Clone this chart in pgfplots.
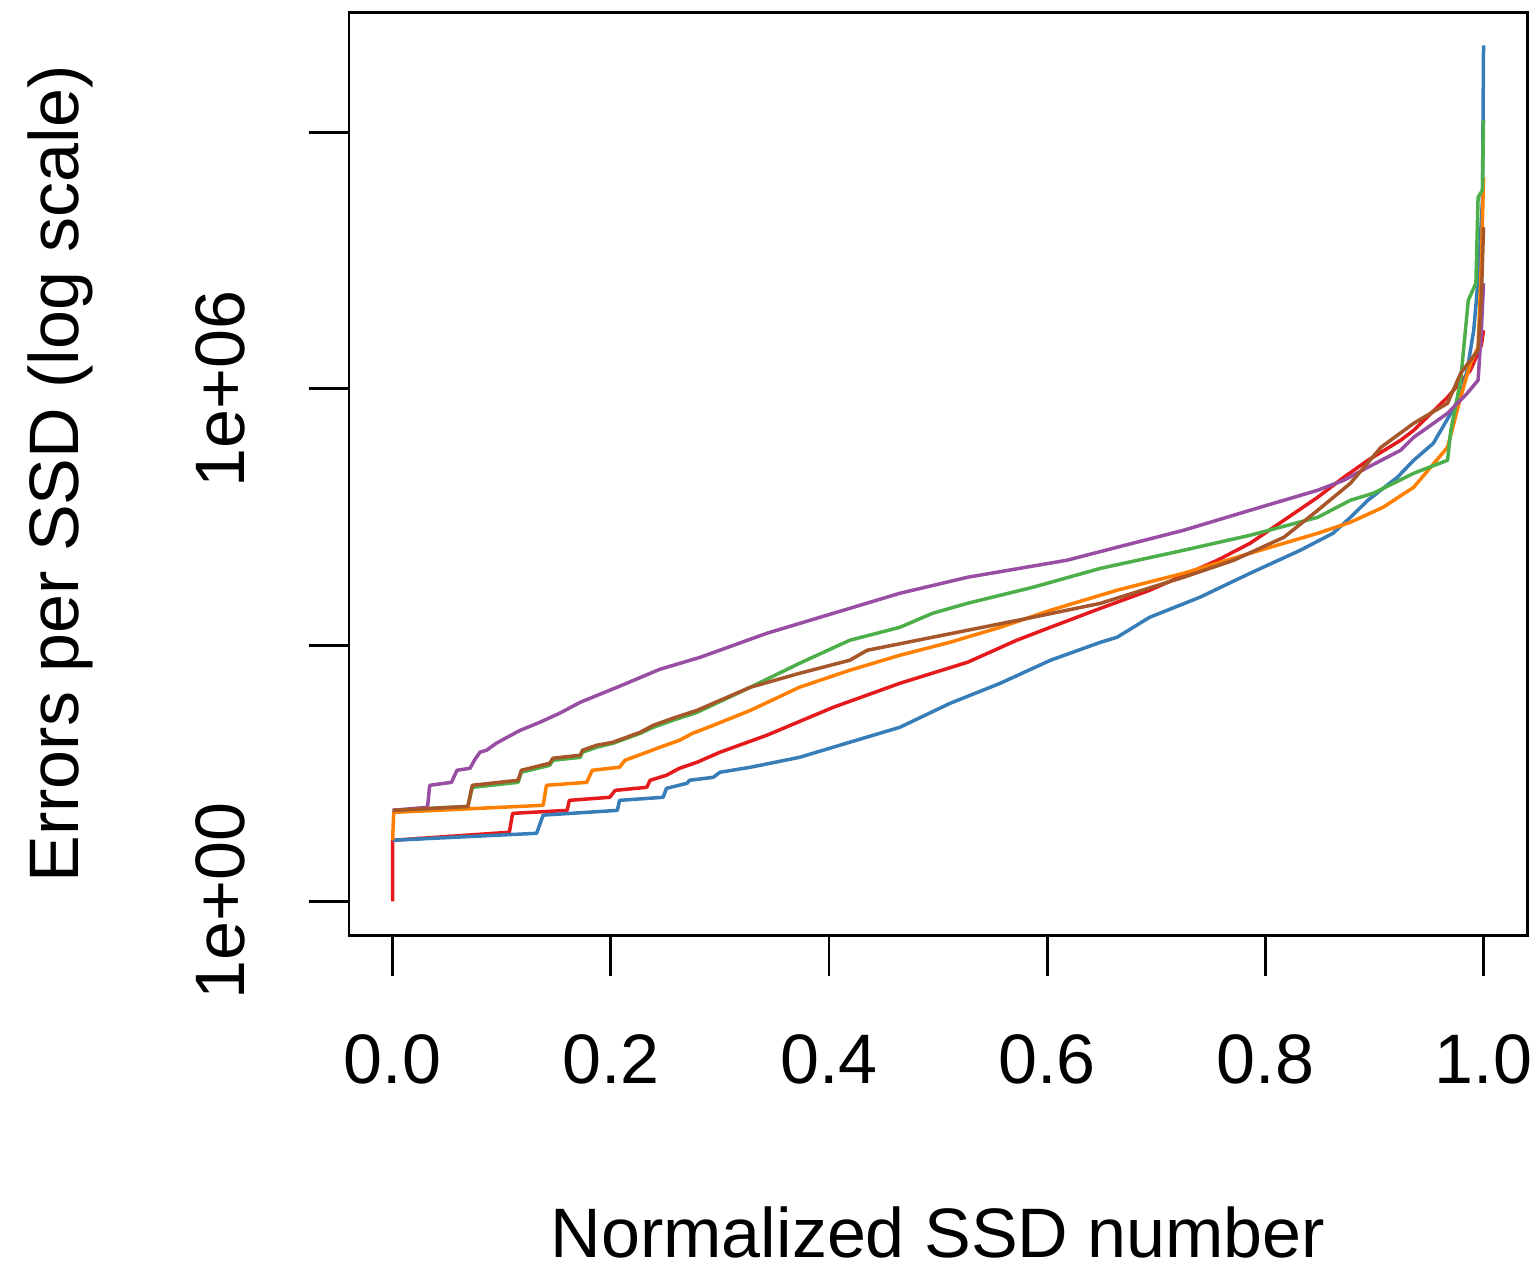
\documentclass[border=0pt]{standalone}
\usepackage{fontspec}
\setmainfont{Liberation Sans}
\usepackage{pgfplots}
\pgfplotsset{compat=1.18}
\definecolor{cred}{HTML}{E41A1C}
\definecolor{cblue}{HTML}{377EB8}
\definecolor{cgreen}{HTML}{4DAF4A}
\definecolor{cpurple}{HTML}{984EA3}
\definecolor{corange}{HTML}{FF7F00}
\definecolor{cbrown}{HTML}{A65628}
\newcommand{\lblfont}{\fontsize{12pt}{14pt}\selectfont}
\begin{document}
\begin{tikzpicture}
\begin{axis}[
    scale only axis,
    width=201.9pt, height=158.2pt,
    xmin=-0.04, xmax=1.04,
    ymode=log, ymin=0.398, ymax=2.57e10,
    xtick={0,0.2,0.4,0.6,0.8,1},
    xticklabels={0.0,0.2,0.4,0.6,0.8,1.0},
    ytick={1,1e3,1e6,1e9},
    yticklabels={1e+00,,1e+06,},
    yminorticks=false,
    tick pos=left, tick align=outside,
    major tick length=6.9pt,
    axis line style={line width=0.5pt},
    every tick/.style={black, line width=0.5pt},
    tick label style={font=\lblfont},
    xticklabel style={anchor=base, yshift=-18.4pt},
    yticklabel style={xshift=-11.0pt, rotate=90, anchor=base},
    every axis x label/.style={at={(axis description cs:0.5,0)}, yshift=-55.2pt, anchor=base, font=\lblfont},
    every axis y label/.style={at={(axis description cs:0,0.5)}, xshift=-46.4pt, rotate=90, anchor=base, font=\lblfont},
    xlabel={Normalized SSD number},
    ylabel={Errors per SSD (log scale)},
    every axis plot/.append style={line width=0.6pt, line join=round, no markers},
]
% red
\addplot[cred] coordinates {
(0,1) (0,5.18) (0.107,6.43) (0.110,10.7) (0.160,11.6) (0.162,15.2) (0.199,16.5)
(0.204,19.9) (0.233,21.6) (0.236,26.1) (0.251,29.9) (0.263,36.1) (0.279,42.4)
(0.300,55.6) (0.343,87.9) (0.404,187) (0.465,357) (0.527,629) (0.572,1138)
(0.603,1616) (0.649,2698) (0.694,4385) (0.756,9840) (0.786,15560) (0.817,28910)
(0.848,53830) (0.872,92260) (0.894,145900) (0.924,250000) (0.936,327500)
(0.967,797700) (0.988,1.652e6) (0.998,3.243e6) (1.0,4.856e6)
};
% blue
\addplot[cblue] coordinates {
(0,5.18) (0.132,6.25) (0.138,10.2) (0.206,11.6) (0.208,15.2) (0.248,16.5)
(0.251,21.0) (0.270,24.1) (0.272,26.1) (0.294,28.3) (0.300,32.4) (0.328,37.1)
(0.373,48.5) (0.419,72.8) (0.465,109) (0.511,208) (0.557,357) (0.603,664)
(0.649,1079) (0.664,1234) (0.694,2117) (0.740,3631) (0.786,6934) (0.832,12880)
(0.862,20370) (0.878,31330) (0.894,49660) (0.921,92260) (0.936,145900)
(0.954,230700) (0.970,517600) (0.979,841400) (0.985,1.652e6) (0.991,4.856e6)
(0.995,1.870e7) (0.999,1.615e8) (1.0,1.054e10)
};
% orange
\addplot[corange] coordinates {
(0,5.18) (0.001,11.0) (0.138,13.3) (0.141,22.8) (0.178,24.7) (0.183,34.2)
(0.208,37.1) (0.213,44.8) (0.233,55.6) (0.245,63.6) (0.263,76.8) (0.275,92.7)
(0.294,115) (0.328,172) (0.373,321) (0.419,507) (0.465,760) (0.511,1079)
(0.557,1616) (0.603,2555) (0.664,4385) (0.725,6934) (0.786,11890) (0.848,20370)
(0.878,27400) (0.908,41100) (0.936,70470) (0.967,207000) (0.979,797700)
(0.988,1.995e6) (0.995,3.069e6) (0.998,2.958e7) (1.0,3.006e8)
};
% green
\addplot[cgreen] coordinates {
(0,11.6) (0.069,12.9) (0.073,21.6) (0.115,24.7) (0.118,32.4) (0.144,39.1)
(0.147,44.8) (0.172,48.5) (0.174,55.6) (0.187,63.6) (0.202,70.8) (0.227,92.7)
(0.239,109) (0.257,131.6) (0.279,163) (0.328,321) (0.373,612) (0.419,1138)
(0.465,1616) (0.495,2356) (0.527,3086) (0.587,4753) (0.649,7925) (0.725,12880)
(0.786,19310) (0.848,31330) (0.878,49660) (0.899,59950) (0.936,102700)
(0.967,145900) (0.970,327500) (0.979,1.262e6) (0.986,1.090e7) (0.993,1.725e7)
(0.995,1.754e8) (0.999,2.118e8) (1.0,1.397e9)
};
% purple
\addplot[cpurple] coordinates {
(0,11.6) (0.032,12.6) (0.034,22.8) (0.054,24.7) (0.059,34.2) (0.071,36.1)
(0.075,44.8) (0.080,55.6) (0.086,58.6) (0.095,70.8) (0.105,83.2) (0.117,100.5)
(0.135,124.7) (0.153,158.9) (0.172,213.9) (0.208,329.4) (0.245,520.8)
(0.282,719.5) (0.343,1374) (0.404,2356) (0.465,4043) (0.527,6223) (0.618,9840)
(0.664,13970) (0.725,22080) (0.786,37870) (0.848,65010) (0.872,85110)
(0.894,120800) (0.924,191000) (0.936,271000) (0.967,517600) (0.985,887200)
(0.995,1.262e6) (0.998,4.856e6) (1.0,1.725e7)
};
% brown
\addplot[cbrown] coordinates {
(0,11.6) (0.069,12.9) (0.073,22.8) (0.115,26.1) (0.118,34.2) (0.144,41.3)
(0.147,47.3) (0.172,51.3) (0.174,58.6) (0.187,67.1) (0.202,72.8) (0.227,95.3)
(0.239,115) (0.257,139) (0.279,172) (0.328,321) (0.373,467) (0.419,664)
(0.435,869) (0.481,1138) (0.527,1490) (0.587,2117) (0.649,3086) (0.725,6223)
(0.771,9840) (0.817,18290) (0.848,37870) (0.878,78490) (0.906,207000)
(0.936,395400) (0.967,678000) (0.979,1.523e6) (0.995,2.833e6) (0.998,1.183e7)
(1.0,7.803e7)
};
\coordinate (sw) at (rel axis cs:0,0);
\coordinate (ne) at (rel axis cs:1,1);
\end{axis}
\pgfresetboundingbox
\path ([shift={(-59.8pt,-56.6pt)}]sw) rectangle ([shift={(2.2pt,2.1pt)}]ne);
\end{tikzpicture}
\end{document}
